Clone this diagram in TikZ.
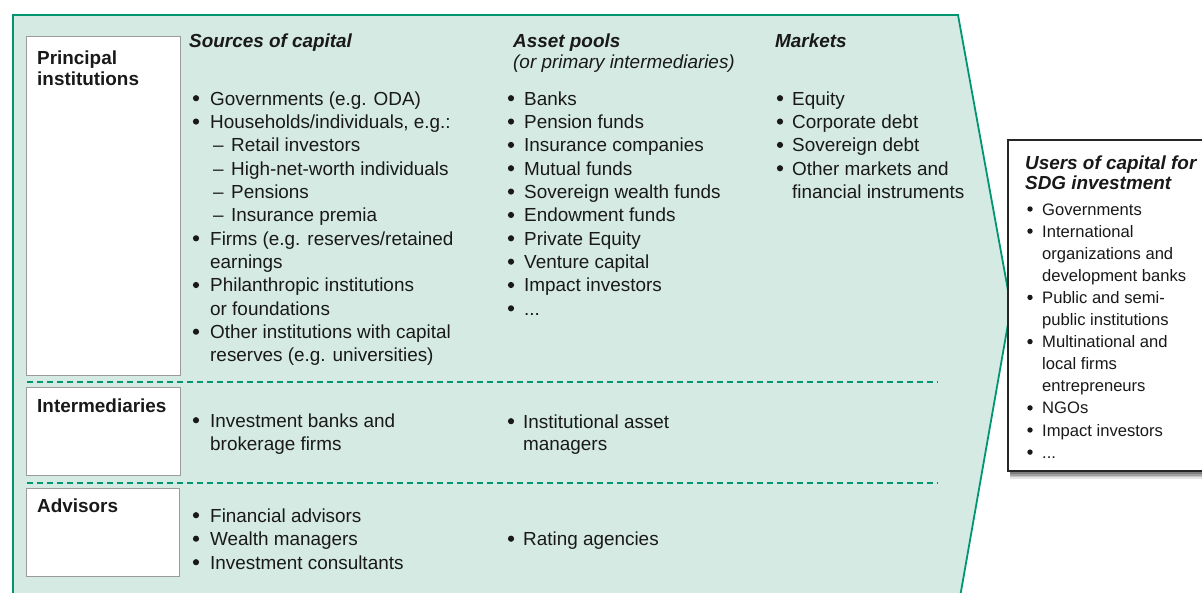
\documentclass[tikz,border=0pt]{standalone}
\usepackage{fontspec}
\setmainfont{Liberation Sans}
\usetikzlibrary{shadows}
\definecolor{gfill}{RGB}{213,234,226}
\definecolor{gline}{RGB}{0,150,112}
\definecolor{gbox}{RGB}{155,155,155}
\definecolor{txtc}{RGB}{25,25,25}
\newcommand\mitem[5]{\node[bul] (#1b) at (#2+5,#4-6.8) {}; \node[txt] (#1) at (#3,#4) {#5};}
\newcommand\mdash[5]{\node[txt] (#1b) at (#2,#4) {–}; \node[txt] (#1) at (#3,#4) {#5};}
\newcommand\uitem[5]{\node[ubul] (#1b) at (#2+3,#4-6) {}; \node[utxt] (#1) at (#3,#4) {#5};}
\begin{document}
\begin{tikzpicture}[x=1pt,y=-1pt,
  txt/.style={inner sep=0pt, anchor=base west, font=\fontsize{18.9}{22}\selectfont, text=txtc},
  utxt/.style={inner sep=0pt, anchor=base west, font=\fontsize{16.6}{20}\selectfont, text=txtc},
  bul/.style={circle, fill=txtc, inner sep=0pt, minimum size=6.2pt},
  ubul/.style={circle, fill=txtc, inner sep=0pt, minimum size=5.4pt},
  head/.style={txt, font=\fontsize{18.9}{22}\selectfont\bfseries\itshape},
  uhead/.style={txt, font=\fontsize{18.9}{22}\selectfont\bfseries\itshape},
  sub/.style={txt, font=\fontsize{18.9}{22}\selectfont\itshape},
  lab/.style={txt, font=\fontsize{18.9}{22}\selectfont\bfseries},
  labbox/.style={draw=gbox, fill=white, line width=1.4pt, inner sep=0pt, anchor=north west},
  userbox/.style={draw=black!85, fill=white, line width=1.6pt, inner sep=0pt, anchor=north west,
     general shadow={shadow xshift=2pt, shadow yshift=-8pt, opacity=0.10, fill=black},
     general shadow={shadow xshift=2pt, shadow yshift=-6.5pt, opacity=0.14, fill=black},
     general shadow={shadow xshift=2pt, shadow yshift=-5pt, opacity=0.18, fill=black},
     general shadow={shadow xshift=2pt, shadow yshift=-3.5pt, opacity=0.22, fill=black}},
  sepline/.style={draw=gline, line width=1.2pt, dash pattern=on 6pt off 4pt}
]
\useasboundingbox (0,0) rectangle (1202,592);
\begin{scope}
\clip (0,0) rectangle (1202,592);
\path[fill=gfill, draw=gline, line width=1.8pt] (13,15) -- (958,15) -- (1011,307) -- (959.5,600) -- (13,600) -- cycle;
\node[userbox, minimum width=210pt, minimum height=331pt] (users) at (1007,139) {};
\end{scope}

% label boxes
\node[labbox, minimum width=154pt, minimum height=339pt] (pbox) at (26,36) {};
\node[labbox, minimum width=154pt, minimum height=88pt] (ibox) at (26,387) {};
\node[labbox, minimum width=153pt, minimum height=88pt] (abox) at (26,488) {};

\draw[sepline] (27,382) -- (938,382);
\draw[sepline] (27,483) -- (938,483);

% labels
\node[lab] (lp1) at (37,64) {Principal};
\node[lab] (lp2) at (37,85) {institutions};
\node[lab] (li) at (37,412) {Intermediaries};
\node[lab] (la) at (37,512) {Advisors};

% headers
\node[head] (h1) at (189,47) {Sources of capital};
\node[head] (h2) at (513,47) {Asset pools};
\node[sub] (h2s) at (513,68) {(or primary intermediaries)};
\node[head] (h3) at (775,47) {Markets};

% sources
\mitem{s1}{191}{210}{105}{Governments (e.g. ODA)}
\mitem{s2}{191}{210}{128.35}{Households/individuals, e.g.:}
\mdash{s3}{213}{231}{151.7}{Retail investors}
\mdash{s4}{213}{231}{175.05}{High-net-worth individuals}
\mdash{s5}{213}{231}{198.4}{Pensions}
\mdash{s6}{213}{231}{221.75}{Insurance premia}
\mitem{s7}{191}{210}{245.1}{Firms (e.g. reserves/retained}
\node[txt] (s7c) at (210,268.45) {earnings};
\mitem{s8}{191}{210}{291.8}{Philanthropic institutions}
\node[txt] (s8c) at (210,315.15) {or foundations};
\mitem{s9}{191}{210}{338.5}{Other institutions with capital}
\node[txt] (s9c) at (210,361.85) {reserves (e.g. universities)};

% asset pools
\mitem{a1}{506}{524}{105}{Banks}
\mitem{a2}{506}{524}{128.35}{Pension funds}
\mitem{a3}{506}{524}{151.7}{Insurance companies}
\mitem{a4}{506}{524}{175.05}{Mutual funds}
\mitem{a5}{506}{524}{198.4}{Sovereign wealth funds}
\mitem{a6}{506}{524}{221.75}{Endowment funds}
\mitem{a7}{506}{524}{245.1}{Private Equity}
\mitem{a8}{506}{524}{268.45}{Venture capital}
\mitem{a9}{506}{524}{291.8}{Impact investors}
\mitem{a10}{506}{524}{315.15}{...}

% markets
\mitem{m1}{775}{792}{105}{Equity}
\mitem{m2}{775}{792}{128.35}{Corporate debt}
\mitem{m3}{775}{792}{151.7}{Sovereign debt}
\mitem{m4}{775}{792}{175.05}{Other markets and}
\node[txt] (m4c) at (792,198.4) {financial instruments};

% intermediaries
\mitem{i1}{191}{210}{427}{Investment banks and}
\node[txt] (i1c) at (210,450) {brokerage firms};
\mitem{i2}{506}{523}{428}{Institutional asset}
\node[txt] (i2c) at (523,450) {managers};

% advisors
\mitem{v1}{191}{210}{522}{Financial advisors}
\mitem{v2}{191}{210}{545.5}{Wealth managers}
\mitem{v3}{191}{210}{569}{Investment consultants}
\mitem{v4}{506}{523}{545.5}{Rating agencies}

% users
\node[uhead] (u0) at (1025,169) {Users of capital for};
\node[uhead] (u0b) at (1025,189) {SDG investment};
\uitem{u1}{1027}{1042}{215}{Governments}
\uitem{u2}{1027}{1042}{237.1}{International}
\node[utxt] (u2c) at (1042,259.2) {organizations and};
\node[utxt] (u2d) at (1042,281.3) {development banks};
\uitem{u3}{1027}{1042}{303.4}{Public and semi-}
\node[utxt] (u3c) at (1042,325.5) {public institutions};
\uitem{u4}{1027}{1042}{347.6}{Multinational and}
\node[utxt] (u4c) at (1042,369.7) {local firms};
\node[utxt] (u4d) at (1042,391.8) {entrepreneurs};
\uitem{u5}{1027}{1042}{413.9}{NGOs}
\uitem{u6}{1027}{1042}{436}{Impact investors}
\uitem{u7}{1027}{1042}{458.1}{...}
\end{tikzpicture}
\end{document}
